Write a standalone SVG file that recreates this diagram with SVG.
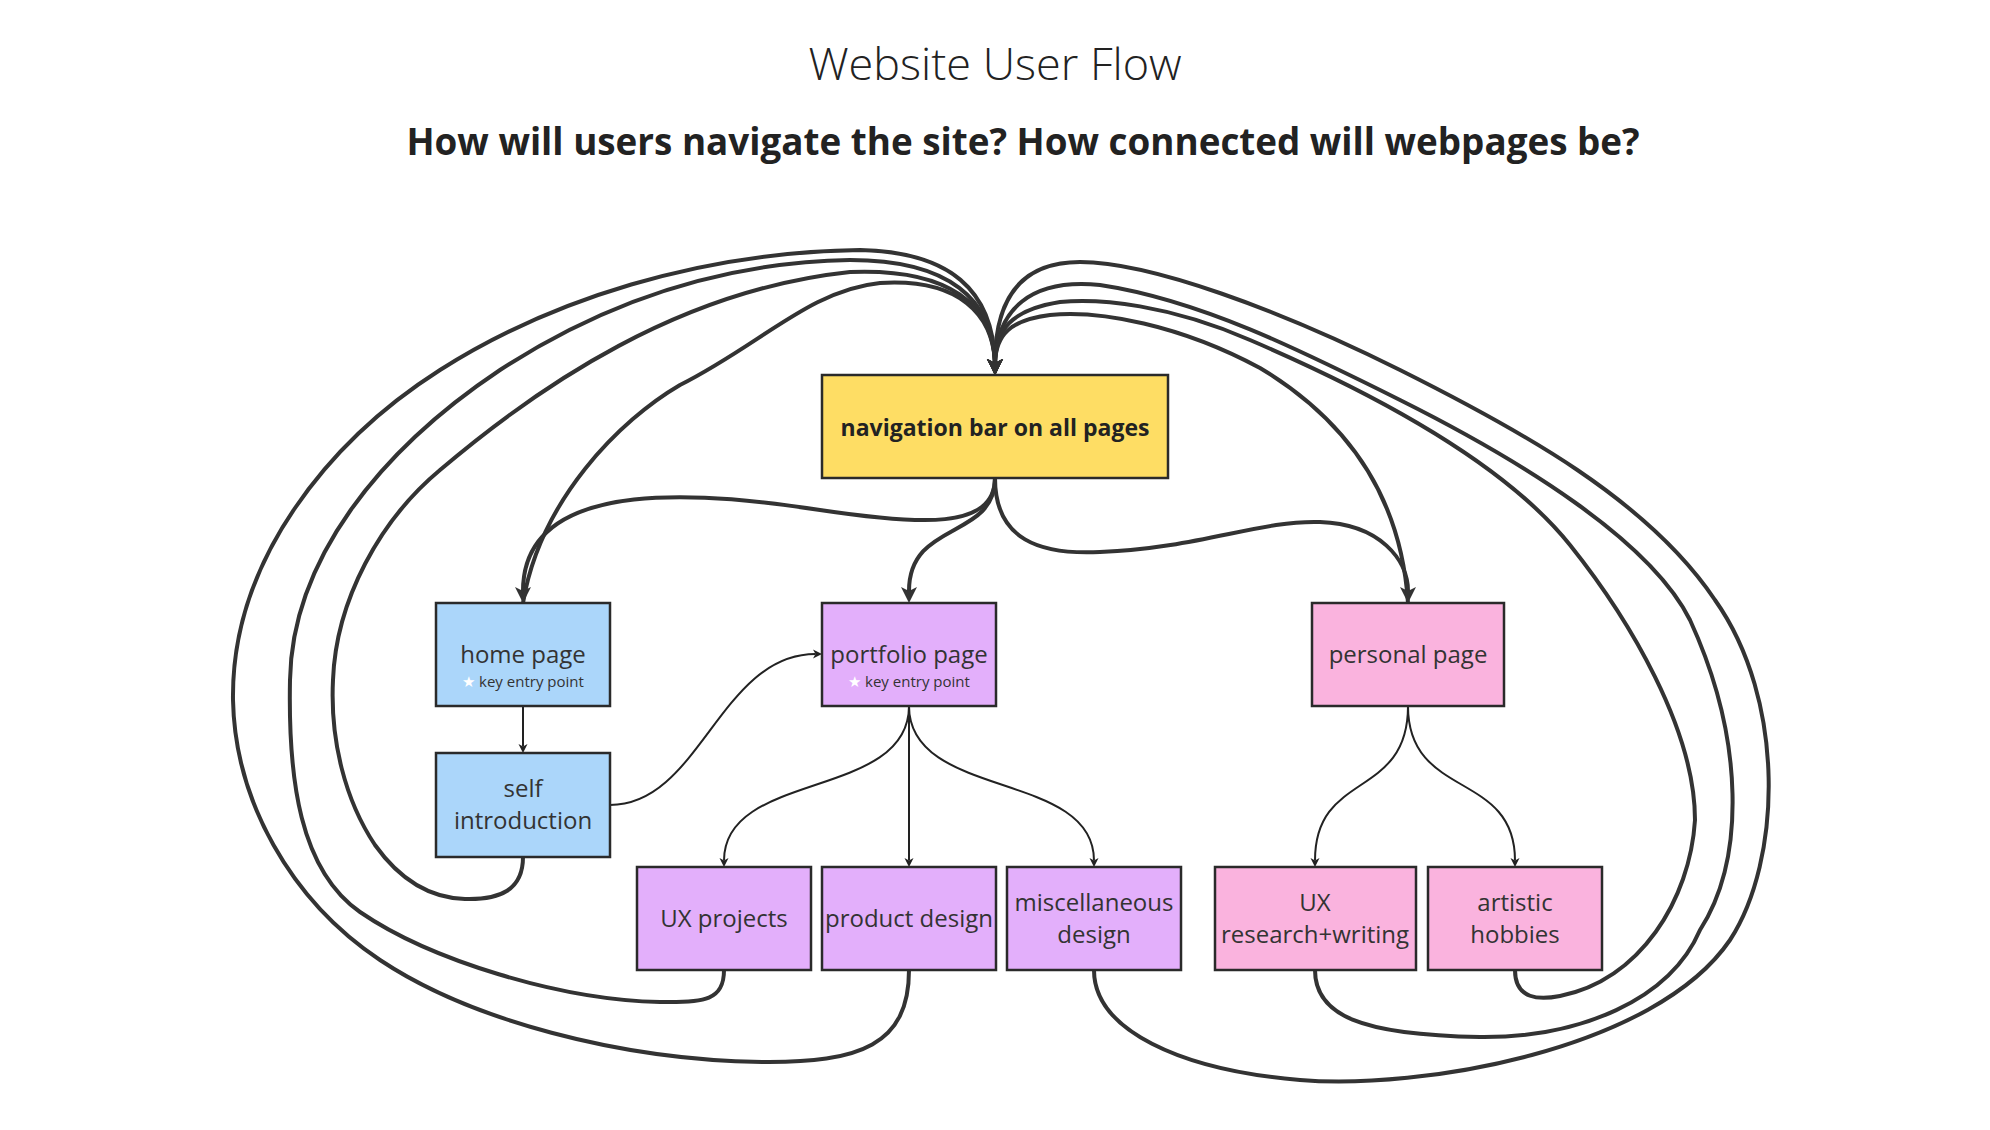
<svg xmlns="http://www.w3.org/2000/svg" width="1990" height="1130" viewBox="0 0 1990 1130">
<style>
.title{font-family:"Open Sans","Liberation Sans",sans-serif;font-weight:300;font-size:45px;fill:#222;}
.sub{font-family:"Open Sans","Liberation Sans",sans-serif;font-weight:700;font-size:36.8px;fill:#222;}
.box{stroke:#2a2a2a;stroke-width:2.5;}
.yellow{fill:#FEDD64;}
.blue{fill:#ABD6FA;}
.purple{fill:#E3AFFB;}
.pink{fill:#FAB3DE;}
.lbl{font-family:"Open Sans","Liberation Sans",sans-serif;font-size:24px;fill:#333;text-anchor:middle;}
.bold{font-weight:700;font-size:23px;fill:#222;}
.small{font-family:"Open Sans","Liberation Sans",sans-serif;font-size:15px;fill:#333;text-anchor:middle;}
.thick{fill:none;stroke:#333;stroke-width:4;marker-end:url(#bigArrow);}
.thin{fill:none;stroke:#222;stroke-width:2;marker-end:url(#smallArrow);}
</style>
<defs>
<marker id="bigArrow" markerUnits="userSpaceOnUse" viewBox="0 0 18 18" markerWidth="18" markerHeight="18" refX="4" refY="9" orient="auto">
<path d="M0,1 L16,9 L0,17 L4,9 z" fill="#333"/>
</marker>
<marker id="smallArrow" markerUnits="userSpaceOnUse" viewBox="0 0 10 10" markerWidth="10" markerHeight="10" refX="2.5" refY="5" orient="auto">
<path d="M0,0.5 L9,5 L0,9.5 L2.5,5 z" fill="#222"/>
</marker>
</defs>
<rect width="1990" height="1130" fill="#fff"/>
<text class="title" x="995" y="80" text-anchor="middle">Website User Flow</text>
<text class="sub" x="1023" y="155" text-anchor="middle">How will users navigate the site? How connected will webpages be?</text>

<g id="connectors">
<!-- nav to pages -->
<path class="thick" d="M995,478 C995,530 920,525 820,510 C720,495 523,470 523,591"/>
<path class="thick" d="M995,478 C995,540 909,520 909,591"/>
<path class="thick" d="M995,478 C995,540 1040,555 1100,552 C1200,548 1260,520 1320,522 C1380,524 1408,560 1408,591"/>
<!-- pages back to nav (left side) -->
<path class="thick" d="M909,970 C909,1045 860,1063 762,1062 C620,1060 470,1020 380,960 C290,900 235,800 233,700 C231,560 330,440 440,370 C550,300 700,252 860,250 C950,252 993,290 995,363"/>
<path class="thick" d="M724,970 C724,1000 705,1003 660,1002 C560,1000 430,960 360,912 C300,870 288,780 290,680 C292,560 380,450 500,370 C620,292 740,262 850,260 C950,260 993,300 995,363"/>
<path class="thick" d="M523,857 C523,890 500,900 465,899 C430,898 400,880 375,845 C345,800 330,740 333,680 C336,600 380,520 440,470 C540,385 680,290 850,272 C950,268 993,305 995,363"/>
<path class="thick" d="M523,603 C540,500 620,420 680,385 C760,345 810,290 880,283 C960,278 993,315 995,363"/>
<!-- pages back to nav (right side) -->
<path class="thick" d="M1094,970 C1094,1030 1180,1070 1300,1080 C1420,1090 1655,1050 1730,940 C1782,860 1786,700 1715,600 C1648,500 1520,430 1400,370 C1280,310 1150,262 1080,262 C1020,262 995,300 995,363"/>
<path class="thick" d="M1315,970 C1315,1015 1360,1035 1480,1037 C1580,1038 1670,1000 1700,930 C1745,860 1745,740 1690,620 C1650,540 1520,460 1400,400 C1300,350 1200,300 1100,285 C1030,278 997,310 995,363"/>
<path class="thick" d="M1515,970 C1515,1000 1540,1000 1560,996 C1640,980 1690,900 1695,820 C1695,730 1630,620 1570,545 C1510,470 1390,400 1250,340 C1170,305 1100,298 1060,302 C1010,310 996,330 995,363"/>
<path class="thick" d="M1408,603 C1400,480 1330,410 1260,368 C1180,325 1100,310 1050,315 C1010,320 996,335 995,363"/>
<!-- thin connectors -->
<path class="thin" d="M523,706 L523,746.5"/>
<path class="thin" d="M610,805 C700,805 720,654 815.5,654"/>
<path class="thin" d="M909,706 C909,800 724,770 724,860.5"/>
<path class="thin" d="M909,706 L909,860.5"/>
<path class="thin" d="M909,706 C909,800 1094,770 1094,860.5"/>
<path class="thin" d="M1408,706 C1408,800 1315,770 1315,860.5"/>
<path class="thin" d="M1408,706 C1408,800 1515,770 1515,860.5"/>
</g>

<g id="nav">
<rect class="box yellow" x="822" y="375" width="346" height="103"/>
<text class="lbl bold" x="995" y="436">navigation bar on all pages</text>
</g>
<g id="home">
<rect class="box blue" x="436" y="603" width="174" height="103"/>
<text class="lbl" x="523" y="663">home page</text>
<text class="small" x="523" y="687"><tspan fill="#fff">★</tspan> key entry point</text>
</g>
<g id="self-intro">
<rect class="box blue" x="436" y="753" width="174" height="104"/>
<text class="lbl" x="523" y="797">self</text>
<text class="lbl" x="523" y="829">introduction</text>
</g>
<g id="portfolio">
<rect class="box purple" x="822" y="603" width="174" height="103"/>
<text class="lbl" x="909" y="663">portfolio page</text>
<text class="small" x="909" y="687"><tspan fill="#fff">★</tspan> key entry point</text>
</g>
<g id="personal">
<rect class="box pink" x="1312" y="603" width="192" height="103"/>
<text class="lbl" x="1408" y="663">personal page</text>
</g>
<g id="ux-projects">
<rect class="box purple" x="637" y="867" width="174" height="103"/>
<text class="lbl" x="724" y="927">UX projects</text>
</g>
<g id="product-design">
<rect class="box purple" x="822" y="867" width="174" height="103"/>
<text class="lbl" x="909" y="927">product design</text>
</g>
<g id="misc-design">
<rect class="box purple" x="1007" y="867" width="174" height="103"/>
<text class="lbl" x="1094" y="911">miscellaneous</text>
<text class="lbl" x="1094" y="943">design</text>
</g>
<g id="ux-research">
<rect class="box pink" x="1215" y="867" width="201" height="103"/>
<text class="lbl" x="1315" y="911">UX</text>
<text class="lbl" x="1315" y="943">research+writing</text>
</g>
<g id="artistic">
<rect class="box pink" x="1428" y="867" width="174" height="103"/>
<text class="lbl" x="1515" y="911">artistic</text>
<text class="lbl" x="1515" y="943">hobbies</text>
</g>
</svg>
